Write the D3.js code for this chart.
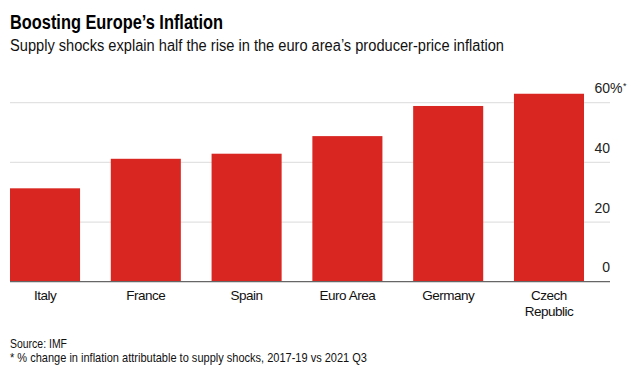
<!doctype html>
<html>
<head>
<meta charset="utf-8">
<script src="https://d3js.org/d3.v7.min.js"></script>
<style>
  body {margin: 0; background: #fff;}
  svg text {font-family: "Liberation Sans", Arial, sans-serif;}
</style>
</head>
<body>
<svg id="chart" width="630" height="384"></svg>
<script>
// data
const countries = ["Italy", "France", "Spain", "Euro Area", "Germany", "Czech Republic"];
const values = [31.3, 41.2, 42.9, 48.8, 58.9, 63.0];
const tickValues = [0, 20, 40, 60];

const svg = d3.select("#chart");

const x = d3.scaleBand().domain(countries).range([10, 584]).paddingInner(0.305).paddingOuter(0).align(0);
const y = d3.scaleLinear().domain([0, 60]).range([281.7, 102.7]);

// title + subtitle (reference font is narrower, so squeeze to its width)
svg.append("text").attr("x", 10).attr("y", 29)
    .style("font-size", "20px").style("font-weight", "bold")
    .attr("textLength", 213).attr("lengthAdjust", "spacingAndGlyphs")
    .attr("fill", "#000").text("Boosting Europe’s Inflation");
svg.append("text").attr("x", 10).attr("y", 51)
    .style("font-size", "16px").attr("fill", "#111")
    .attr("textLength", 494).attr("lengthAdjust", "spacingAndGlyphs")
    .text("Supply shocks explain half the rise in the euro area’s producer-price inflation");

// gridlines
svg.append("g").selectAll("line")
    .data(tickValues.filter(d => d > 0))
    .enter().append("line")
      .attr("x1", 10).attr("x2", 610)
      .attr("y1", d => y(d)).attr("y2", d => y(d))
      .attr("stroke", "#e2e2e2").attr("stroke-width", 1.3);

// bars
svg.append("g").selectAll("rect")
    .data(countries)
    .enter().append("rect")
      .attr("x", d => x(d))
      .attr("width", x.bandwidth())
      .attr("y", (d, i) => y(values[i]))
      .attr("height", (d, i) => y(0) - y(values[i]))
      .attr("fill", "#d92620");

// baseline
svg.append("line").attr("x1", 10).attr("x2", 610)
    .attr("y1", y(0)).attr("y2", y(0))
    .attr("stroke", "#666").attr("stroke-width", 1.3);

// right axis labels, sitting above each gridline
const yl = svg.append("g");
yl.selectAll("text")
    .data(tickValues)
    .enter().append("text")
      .attr("x", 610).attr("y", d => y(d) - 9.5)
      .attr("text-anchor", "end")
      .style("font-size", "14px").attr("fill", "#222")
      .text(d => d);
yl.append("text").attr("x", 610).attr("y", y(60) - 9.5)
    .style("font-size", "14px").attr("fill", "#222").text("%");
yl.append("text").attr("x", 623).attr("y", y(60) - 14)
    .style("font-size", "9px").attr("fill", "#222").text("*");

// category labels
const xl = svg.append("g").selectAll("text")
    .data(countries)
    .enter().append("text")
      .attr("x", d => x(d) + x.bandwidth() / 2)
      .attr("y", 300)
      .attr("text-anchor", "middle")
      .style("font-size", "13.5px").style("letter-spacing", "-0.5px").attr("fill", "#111");
xl.each(function(d) {
  const parts = d === "Czech Republic" ? ["Czech", "Republic"] : [d];
  const t = d3.select(this);
  parts.forEach((p, i) => {
    t.append("tspan").attr("x", x(d) + x.bandwidth() / 2).attr("dy", i ? 16 : 0).text(p);
  });
});

// footer
svg.append("text").attr("x", 10).attr("y", 348)
    .style("font-size", "13px").attr("fill", "#111")
    .attr("textLength", 57).attr("lengthAdjust", "spacingAndGlyphs")
    .text("Source: IMF");
svg.append("text").attr("x", 10).attr("y", 362)
    .style("font-size", "13px").attr("fill", "#111")
    .attr("textLength", 357).attr("lengthAdjust", "spacingAndGlyphs")
    .text("* % change in inflation attributable to supply shocks, 2017-19 vs 2021 Q3");
</script>
</body>
</html>
